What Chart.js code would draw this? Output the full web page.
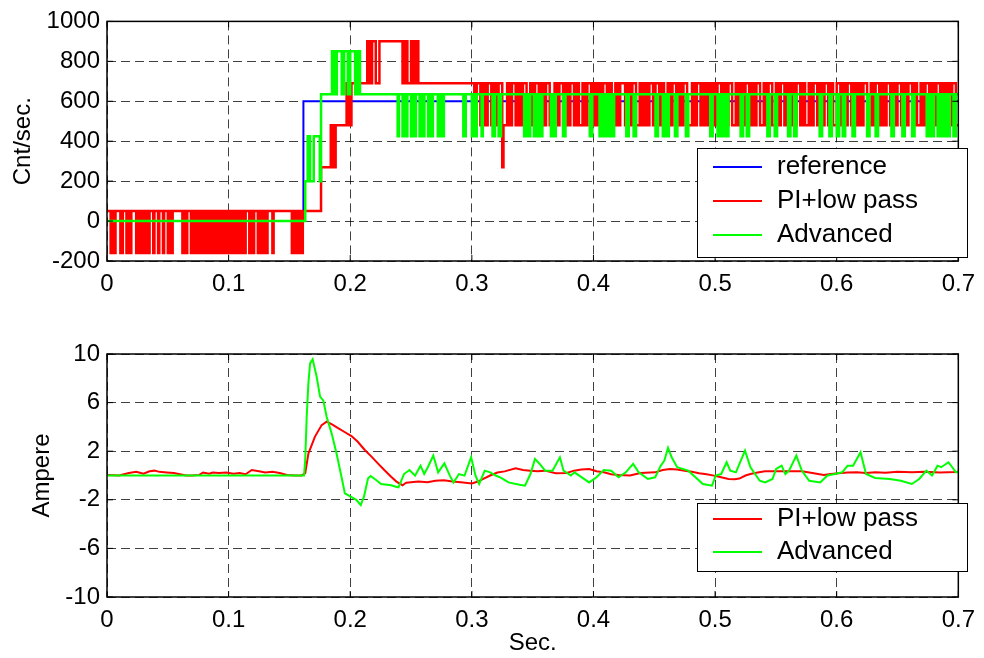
<!DOCTYPE html>
<html>
<head>
<meta charset="utf-8">
<script src="https://cdn.jsdelivr.net/npm/chart.js@4.4.1/dist/chart.umd.min.js"></script>
<style>
    html, body { margin: 0; padding: 0; background: #fff; }
    #wrap { position: relative; width: 984px; height: 658px; }
    #speedChart { position: absolute; left: 0; top: 0; }
    #currentChart { position: absolute; left: 0; top: 320px; }
</style>
</head>
<body>
<div id="wrap">
    <canvas id="speedChart" width="984" height="320"></canvas>
    <canvas id="currentChart" width="984" height="338"></canvas>
</div>
<script>
// Tick labels
const timeTicks = [0, 0.1, 0.2, 0.3, 0.4, 0.5, 0.6, 0.7];
const speedTicks = [-200, 0, 200, 400, 600, 800, 1000];
const currentTicks = [-10, -6, -2, 2, 6, 10];

// Speed plot: reference step
const refTimes = [0, 0.1615, 0.7];
const refValues = [0, 600, 600];

// Speed plot: quantised encoder speeds, one character per millisecond
const piLevels = { a: -160, b: 50, c: 270, d: 480, e: 690, f: 900 };
const piCode = [
    'bbbabbabbb', 'baabbbabba', 'bbbbabbabb', 'abbaabbbab', 'bbabbbabbb',
    'abbabbbbbb', 'bbabbabbba', 'bbabbaabba', 'bbabbabbab', 'abbabbabba',
    'bbabbaabba', 'bbaabbbabb', 'abbbabbaab', 'babbbbabbb', 'bbbbbbbbbb',
    'bbabbaabba', 'abbbbbbbbb', 'bbbbbb',
    'cccccccc', 'dcdcd', 'dddddddd', 'eded', 'eeeeeeeeeeeee',
    'ffeefffeeeff', 'fffffffffffffffff', 'eeffeeeffeeffeee',
    'eeeeeeeeee', 'eeeeeeeeee', 'eeeeeeeeee', 'eeeeeeeeee', 'e',
    'eeddeeeddeeddeeeddeeddeee', 'c', 'dddeeddeeeddeeddeeedddee',
    'ddeeeddeeddeeeddddeeddeeeddeeddeeeddeedddeeddeeedd',
    'eeddeeddeeeddeedddeeddeeeeddeeddeeedddeeddeeddeeed',
    'deeeddeedddeeddeeeddeeddeeeddddeeddeeeddeeddeeddee',
    'ddeeeddeeddeeedddeeddeeddeeeddeeddeeedddeeddeeeddd',
    'eeddeeeddeeddeeddeeeddeedddeeddeeeddeeddeeeddeeddd',
    'eeeddeeddeeeddeeddeeddeeedddeeddeeeddeeddeeeddeedd',
    'eeeddeeddeeeddeedddeeddeeeddeeddeeeddeeddeeddeeedd'
].join('');

const advLevels = { '0': 0, '1': 200, '2': 425, '3': 635, '4': 850 };
const advCode = [
    '0000000000', '0000000000', '0000000000', '0000000000', '0000000000',
    '0000000000', '0000000000', '0000000000', '0000000000', '0000000000',
    '0000000000', '0000000000', '0000000000', '0000000000', '0000000000',
    '0000000000', '0001122111', '2222213333', '3333344334', '4443344433',
    '4444334433', '3333333333', '3333333333', '3333333332', '3332332333',
    '2332333233', '2333233233', '3322332333', '3333333333', '3332233333',
    '2332333323', '3333333223', '3322333333', '3333333333', '3332332233',
    '3233233233', '3333323323', '3333322333', '3333333333', '3333333223',
    '3333322332', '3323322333', '3333333223', '3332233333', '3333333333',
    '3223333223', '3233333223', '3333332233', '3333333333', '3333332233',
    '3322332233', '2333333333', '3223332233', '3333333333', '3332233332',
    '2333333333', '2233322333', '3333333333', '3333332233', '3333223333',
    '2233322333', '3332233333', '3333322333', '3322333333', '3333322333',
    '3333223333', '3322333333', '3333223322', '3332233223', '3223332233'
].join('');

// Current plot (Ampere)
const piCurTimes = [0, 0.010, 0.018, 0.024, 0.030, 0.035, 0.039, 0.043, 0.049, 0.055,
    0.060, 0.065, 0.070, 0.076, 0.079, 0.084, 0.087, 0.092, 0.098, 0.104,
    0.109, 0.114, 0.119, 0.125, 0.130, 0.136, 0.142, 0.148, 0.155, 0.160,
    0.163, 0.1656, 0.171, 0.1765, 0.1806, 0.185, 0.190, 0.195, 0.201, 0.206,
    0.212, 0.2175, 0.2227, 0.228, 0.2336, 0.238, 0.243, 0.246, 0.250, 0.256,
    0.2635, 0.270, 0.277, 0.284, 0.291, 0.300, 0.305, 0.309, 0.315, 0.321,
    0.327, 0.336, 0.342, 0.348, 0.354, 0.360, 0.369, 0.378, 0.384, 0.390,
    0.3965, 0.4025, 0.4085, 0.4145, 0.4206, 0.430, 0.4387, 0.4507, 0.457, 0.4628,
    0.4688, 0.4749, 0.4809, 0.4869, 0.493, 0.499, 0.505, 0.511, 0.516, 0.520,
    0.525, 0.529, 0.535, 0.541, 0.556, 0.5713, 0.580, 0.5894, 0.595, 0.6015,
    0.609, 0.6166, 0.624, 0.6316, 0.640, 0.650, 0.6618, 0.672, 0.685, 0.698, 0.700];
const piCurValues = [0.05, 0.0, 0.2, 0.3, 0.15, 0.35, 0.4, 0.3, 0.25, 0.2,
    0.1, 0.0, 0.0, 0.05, 0.25, 0.15, 0.25, 0.2, 0.25, 0.15,
    0.2, 0.1, 0.45, 0.35, 0.25, 0.3, 0.2, 0.05, 0.0, 0.0,
    0.2, 1.8, 3.2, 4.15, 4.43, 4.2, 3.9, 3.6, 3.25, 2.8,
    2.1, 1.55, 1.0, 0.45, -0.1, -0.5, -0.8, -0.6, -0.55, -0.5,
    -0.55, -0.43, -0.4, -0.5, -0.55, -0.65, -0.5, -0.3, 0.0, 0.25,
    0.34, 0.59, 0.45, 0.4, 0.35, 0.4, 0.18, 0.2, 0.4, 0.5,
    0.54, 0.35, 0.26, 0.1, 0.05, 0.0, 0.2, 0.26, 0.45, 0.54,
    0.5, 0.4, 0.3, 0.18, 0.1, -0.01, -0.15, -0.29, -0.3, -0.25,
    0.0, 0.12, 0.25, 0.34, 0.35, 0.34, 0.2, 0.04, 0.12, 0.18,
    0.25, 0.26, 0.2, 0.26, 0.22, 0.3, 0.26, 0.3, 0.25, 0.28, 0.3];

const advCurTimes = [0, 0.162, 0.163, 0.1642, 0.1656, 0.167, 0.1691, 0.1724, 0.1752, 0.1779,
    0.1806, 0.1847, 0.1887, 0.1928, 0.1956, 0.1996, 0.205, 0.2086, 0.2113, 0.2146,
    0.2168, 0.2213, 0.2254, 0.2336, 0.2376, 0.2397, 0.2442, 0.2487, 0.2533, 0.2578,
    0.2608, 0.2638, 0.2683, 0.2723, 0.2774, 0.2819, 0.2849, 0.2894, 0.294, 0.2994,
    0.303, 0.306, 0.3106, 0.3151, 0.3196, 0.3241, 0.3301, 0.3392, 0.3437, 0.3482,
    0.3519, 0.3558, 0.3603, 0.3663, 0.3724, 0.3754, 0.3814, 0.3844, 0.3904, 0.3965,
    0.4025, 0.4085, 0.4146, 0.4206, 0.4266, 0.4326, 0.4372, 0.4447, 0.4507, 0.4553,
    0.4583, 0.4613, 0.4643, 0.4688, 0.4779, 0.4839, 0.4899, 0.4975, 0.5005, 0.505,
    0.5095, 0.5125, 0.5171, 0.5246, 0.5291, 0.5367, 0.5412, 0.5472, 0.5502, 0.5547,
    0.5578, 0.5608, 0.5668, 0.5713, 0.5774, 0.5864, 0.5924, 0.5985, 0.6045, 0.609,
    0.6135, 0.6196, 0.6241, 0.6316, 0.6437, 0.6527, 0.6618, 0.6678, 0.6738, 0.6784,
    0.6829, 0.6859, 0.6919, 0.695, 0.698, 0.700];
const advCurValues = [0, 0, 1.3, 4.84, 7.6, 9.23, 9.56, 8.13, 6.49, 6.16,
    4.84, 3.47, 1.83, -0.1, -1.47, -1.69, -2.0, -2.43, -1.74, -0.24,
    -0.04, -0.37, -0.7, -0.8, -0.92, -0.98, 0.12, 0.45, -0.01, 0.81,
    0.12, 0.68, 1.64, 0.26, 1.0, -0.01, -0.57, 0.12, -0.01, 1.5,
    -0.01, -0.7, 0.4, 0.26, 0.0, -0.2, -0.57, -0.76, -0.84, 0.12,
    1.37, 0.95, 0.4, 0.4, 1.5, 0.4, 0.0, 0.26, -0.15, -0.57,
    -0.15, 0.45, 0.4, -0.15, 0.26, 0.95, 0.26, -0.29, -0.15, 0.81,
    1.23, 2.28, 1.5, 0.68, 0.4, -0.15, -0.7, -0.84, 0.0, 0.12,
    1.09, 0.4, 0.26, 2.05, 0.68, -0.43, -0.57, -0.29, 0.54, 0.81,
    0.12, 0.4, 1.64, 0.4, -0.43, -0.57, 0.0, 0.12, 0.26, 0.81,
    0.81, 1.92, 0.12, -0.2, -0.29, -0.43, -0.7, -0.29, 0.4, 0.0,
    0.81, 0.68, 1.09, 0.68, 0.26, 0.3];

const FONT = 'Arial, "Liberation Sans", sans-serif';

// Turn a level code into step points (a point only where the level changes)
function codeToSteps(code, levels) {
    const pts = [];
    let prev = null;
    for (let i = 0; i < code.length; i++) {
        const v = levels[code[i]];
        if (v !== prev) {
            pts.push({ x: i / 1000, y: v });
            prev = v;
        }
    }
    pts.push({ x: 0.7, y: prev });
    return pts;
}

function toPoints(times, values) {
    return times.map((t, i) => ({ x: t, y: values[i] }));
}

// Axes frame, inward ticks and a boxed legend inside the plot
const framePlugin = {
    id: 'frame',
    afterDraw(chart, args, opts) {
        const { ctx, chartArea: a } = chart;
        const xs = chart.scales.x, ys = chart.scales.y;
        ctx.save();
        ctx.strokeStyle = '#000';
        ctx.lineWidth = 1.5;
        ctx.strokeRect(a.left, a.top, a.right - a.left, a.bottom - a.top);
        ctx.lineWidth = 1;
        ctx.beginPath();
        timeTicks.forEach(v => {
            const px = xs.getPixelForValue(v);
            ctx.moveTo(px, a.bottom); ctx.lineTo(px, a.bottom - 6);
            ctx.moveTo(px, a.top); ctx.lineTo(px, a.top + 6);
        });
        opts.yTicks.forEach(v => {
            const py = ys.getPixelForValue(v);
            ctx.moveTo(a.left, py); ctx.lineTo(a.left + 6, py);
            ctx.moveTo(a.right, py); ctx.lineTo(a.right - 6, py);
        });
        ctx.stroke();

        const lg = opts.legend;
        ctx.fillStyle = '#fff';
        ctx.fillRect(lg.x, lg.y, lg.w, lg.h);
        ctx.strokeStyle = '#000';
        ctx.lineWidth = 1;
        ctx.strokeRect(lg.x + 0.5, lg.y + 0.5, lg.w, lg.h);
        ctx.font = '26px ' + FONT;
        ctx.textBaseline = 'middle';
        ctx.textAlign = 'left';
        lg.rows.forEach((row, i) => {
            const y = lg.y + lg.first + i * lg.gap;
            ctx.strokeStyle = row.color;
            ctx.lineWidth = 2;
            ctx.beginPath();
            ctx.moveTo(lg.x + 16, y);
            ctx.lineTo(lg.x + 65, y);
            ctx.stroke();
            ctx.fillStyle = '#000';
            ctx.fillText(row.label, lg.x + 80, y);
        });
        ctx.restore();
    }
};

function makeScales(yTicks, yMin, yMax, yTitle, yTitlePad, xTitle, xHeight) {
    const dashGrid = { color: 'rgba(0,0,0,0.75)', lineWidth: 1, drawTicks: false };
    return {
        x: {
            type: 'linear', min: 0, max: 0.7,
            afterBuildTicks: s => { s.ticks = timeTicks.map(v => ({ value: v })); },
            afterFit: s => { s.height = xHeight; },
            grid: dashGrid,
            border: { display: false, dash: [9, 5] },
            ticks: {
                autoSkip: false, maxRotation: 0, padding: 9, color: '#000',
                font: { family: FONT, size: 24 },
                callback: v => (v === 0 ? '0' : String(+v.toFixed(1)))
            },
            title: xTitle ? {
                display: true, text: xTitle, color: '#000',
                font: { family: FONT, size: 24 }, padding: { top: 0, bottom: 0 }
            } : { display: false }
        },
        y: {
            type: 'linear', min: yMin, max: yMax,
            afterBuildTicks: s => { s.ticks = yTicks.map(v => ({ value: v })); },
            afterFit: s => { s.width = 107; },
            grid: dashGrid,
            border: { display: false, dash: [9, 5] },
            ticks: {
                padding: 7, color: '#000',
                font: { family: FONT, size: 24 },
                callback: v => String(v)
            },
            title: {
                display: true, text: yTitle, color: '#000',
                font: { family: FONT, size: 24 }, padding: { top: yTitlePad, bottom: 0 }
            }
        }
    };
}

const speedChart = new Chart(document.getElementById('speedChart'), {
    type: 'line',
    data: {
        datasets: [
            { label: 'reference', data: toPoints(refTimes, refValues), borderColor: '#0000ff',
              borderWidth: 2, stepped: true, order: 3 },
            { label: 'PI+low pass', data: codeToSteps(piCode, piLevels), borderColor: '#ff0000',
              borderWidth: 2.5, stepped: true, order: 2 },
            { label: 'Advanced', data: codeToSteps(advCode, advLevels), borderColor: '#00ff00',
              borderWidth: 2.5, stepped: true, order: 1 }
        ]
    },
    options: {
        responsive: false,
        animation: false,
        parsing: false,
        elements: { point: { radius: 0 } },
        layout: { padding: { top: 18, right: 19, left: 0, bottom: 0 } },
        scales: makeScales(speedTicks, -200, 1000, 'Cnt/sec.', 9, null, 59),
        plugins: {
            legend: { display: false },
            tooltip: { enabled: false },
            frame: {
                yTicks: speedTicks,
                legend: {
                    x: 697, y: 148, w: 270, h: 109, first: 19, gap: 34,
                    rows: [
                        { label: 'reference', color: '#0000ff' },
                        { label: 'PI+low pass', color: '#ff0000' },
                        { label: 'Advanced', color: '#00ff00' }
                    ]
                }
            }
        }
    },
    plugins: [framePlugin]
});

const currentChart = new Chart(document.getElementById('currentChart'), {
    type: 'line',
    data: {
        datasets: [
            { label: 'PI+low pass', data: toPoints(piCurTimes, piCurValues), borderColor: '#ff0000',
              borderWidth: 2, tension: 0, order: 2 },
            { label: 'Advanced', data: toPoints(advCurTimes, advCurValues), borderColor: '#00ff00',
              borderWidth: 2, tension: 0, order: 1 }
        ]
    },
    options: {
        responsive: false,
        animation: false,
        parsing: false,
        elements: { point: { radius: 0 } },
        layout: { padding: { top: 34, right: 19, left: 0, bottom: 0 } },
        scales: makeScales(currentTicks, -10, 10, 'Ampere', 28, 'Sec.', 61),
        plugins: {
            legend: { display: false },
            tooltip: { enabled: false },
            frame: {
                yTicks: currentTicks,
                legend: {
                    x: 697, y: 183, w: 270, h: 68, first: 16, gap: 33,
                    rows: [
                        { label: 'PI+low pass', color: '#ff0000' },
                        { label: 'Advanced', color: '#00ff00' }
                    ]
                }
            }
        }
    },
    plugins: [framePlugin]
});
</script>
</body>
</html>
